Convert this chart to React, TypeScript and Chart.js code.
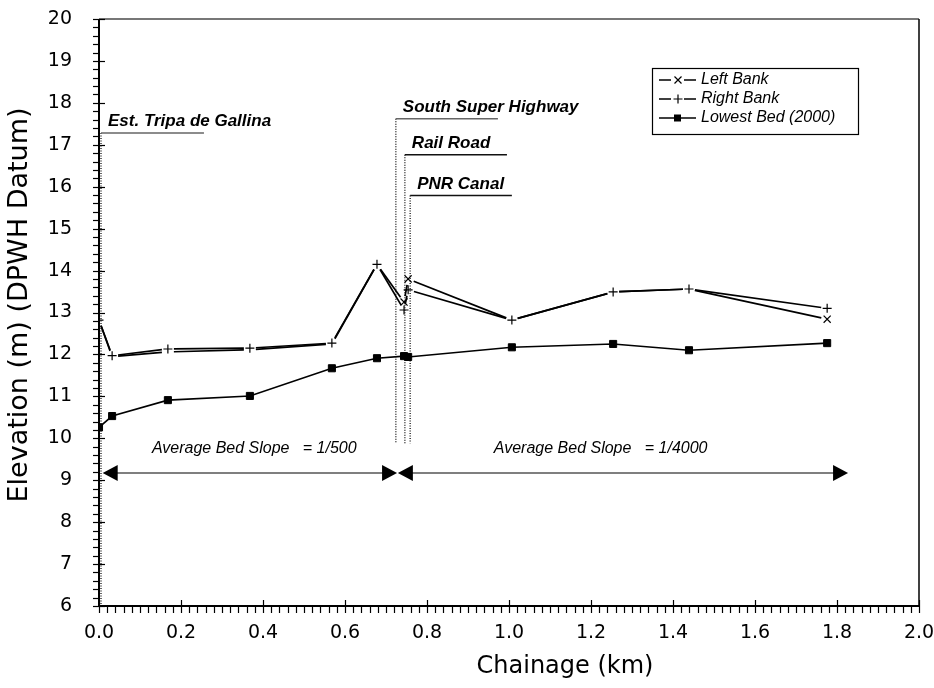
import React, { useEffect, useRef } from "react";
import { Chart, registerables } from "chart.js";

Chart.register(...registerables);

// ---------- data ----------
const chainageKm = [0, 0.032, 0.168, 0.368, 0.568, 0.678, 0.744, 0.754, 1.007, 1.254, 1.439, 1.776];
const leftBank = [12.82, 11.95, 12.06, 12.11, 12.25, 14.15, 13.25, 13.8, 12.82, 13.49, 13.56, 12.84];
const rightBank = [12.82, 11.97, 12.13, 12.15, 12.27, 14.15, 13.06, 13.54, 12.82, 13.49, 13.56, 13.1];
const lowestBed = [10.26, 10.53, 10.91, 11.01, 11.67, 11.91, 11.96, 11.94, 12.17, 12.25, 12.1, 12.27];
const seriesLabels = ["Left Bank", "Right Bank", "Lowest Bed (2000)"];

const structureNames = ["Est. Tripa de Gallina", "South Super Highway", "Rail Road", "PNR Canal"];
const structureKm = [0, 0.724, 0.746, 0.759];
const structureTop = [17.28, 17.62, 16.76, 15.79];
const structureLineEnd = [0.256, 0.973, 0.995, 1.007];

const slopeLabels = ["Average Bed Slope   = 1/500", "Average Bed Slope   = 1/4000"];
const slopeFrom = [0.009, 0.729];
const slopeTo = [0.727, 1.827];
const slopeTextKm = [0.129, 0.963];
const slopeArrowY = 9.17;
const slopeTextY = 9.64;
const structureLineBottom = 9.88;

const xTitle = "Chainage (km)";
const yTitle = "Elevation (m) (DPWH Datum)";

const toPts = (ys: number[]) => ys.map((y, i) => ({ x: chainageKm[i], y }));

// ---------- plugins ----------
const gapLinePlugin = {
  id: "gapLines",
  beforeDatasetsDraw(chart: any) {
    const ctx = chart.ctx;
    chart.data.datasets.forEach((ds: any, i: number) => {
      if (!ds.gapLine) return;
      const pts = chart.getDatasetMeta(i).data;
      ctx.save();
      ctx.strokeStyle = "#000";
      ctx.lineWidth = 1.7;
      for (let k = 0; k < pts.length - 1; k++) {
        const a = pts[k];
        const b = pts[k + 1];
        const dx = b.x - a.x;
        const dy = b.y - a.y;
        const L = Math.hypot(dx, dy);
        const g = 6;
        if (L <= 2 * g) continue;
        const ux = dx / L;
        const uy = dy / L;
        ctx.beginPath();
        ctx.moveTo(a.x + ux * g, a.y + uy * g);
        ctx.lineTo(b.x - ux * g, b.y - uy * g);
        ctx.stroke();
      }
      ctx.restore();
    });
  },
};

function drawArrowHead(ctx: CanvasRenderingContext2D, tipX: number, y: number, dir: number) {
  ctx.beginPath();
  ctx.moveTo(tipX, y);
  ctx.lineTo(tipX - dir * 15, y - 8);
  ctx.lineTo(tipX - dir * 15, y + 8);
  ctx.closePath();
  ctx.fill();
}

const annotationPlugin = {
  id: "annots",
  beforeDatasetsDraw(chart: any) {
    const ctx: CanvasRenderingContext2D = chart.ctx;
    const xs = chart.scales.x;
    const ys = chart.scales.y;
    ctx.save();
    structureNames.forEach((name, i) => {
      const x = xs.getPixelForValue(structureKm[i]) + (i === 0 ? 2 : 0);
      const yTop = ys.getPixelForValue(structureTop[i]);
      const yBot = i === 0 ? ys.getPixelForValue(6) : ys.getPixelForValue(structureLineBottom);
      ctx.strokeStyle = "#333";
      ctx.lineWidth = 1.5;
      ctx.setLineDash([1, 1.5]);
      ctx.beginPath();
      ctx.moveTo(x, yTop);
      ctx.lineTo(x, yBot);
      ctx.stroke();
      ctx.setLineDash([]);
      ctx.strokeStyle = i < 2 ? "#666" : "#111";
      ctx.lineWidth = 1.5;
      ctx.beginPath();
      ctx.moveTo(x, yTop);
      ctx.lineTo(xs.getPixelForValue(structureLineEnd[i]), yTop);
      ctx.stroke();
      ctx.fillStyle = "#000";
      ctx.font = "italic bold 17px 'Liberation Sans', Arial, sans-serif";
      ctx.textAlign = "left";
      ctx.textBaseline = "alphabetic";
      ctx.fillText(name, x + 7, yTop - 7);
    });
    slopeLabels.forEach((lab, i) => {
      const y = ys.getPixelForValue(slopeArrowY);
      const x1 = xs.getPixelForValue(slopeFrom[i]);
      const x2 = xs.getPixelForValue(slopeTo[i]);
      ctx.strokeStyle = "#555";
      ctx.lineWidth = 1.5;
      ctx.beginPath();
      ctx.moveTo(x1 + 10, y);
      ctx.lineTo(x2 - 10, y);
      ctx.stroke();
      ctx.fillStyle = "#000";
      drawArrowHead(ctx, x1, y, -1);
      drawArrowHead(ctx, x2, y, 1);
      ctx.font = "italic 16px 'Liberation Sans', Arial, sans-serif";
      ctx.textAlign = "left";
      ctx.textBaseline = "alphabetic";
      ctx.fillText(lab, xs.getPixelForValue(slopeTextKm[i]), ys.getPixelForValue(slopeTextY));
    });
    ctx.restore();
  },
  afterDraw(chart: any) {
    const ctx: CanvasRenderingContext2D = chart.ctx;
    const { left, right, top, bottom } = chart.chartArea;
    const xs = chart.scales.x;
    const ys = chart.scales.y;
    ctx.save();
    ctx.lineWidth = 2;
    ctx.strokeStyle = "#777";
    ctx.beginPath();
    ctx.moveTo(left, top);
    ctx.lineTo(right, top);
    ctx.stroke();
    ctx.strokeStyle = "#000";
    ctx.lineWidth = 1.5;
    ctx.beginPath();
    ctx.moveTo(right, top);
    ctx.lineTo(right, bottom);
    ctx.stroke();
    ctx.lineWidth = 2;
    ctx.beginPath();
    ctx.moveTo(left, top);
    ctx.lineTo(left, bottom);
    ctx.lineTo(right, bottom);
    ctx.stroke();
    ctx.lineWidth = 1.2;
    for (let k = 0; k <= 70; k++) {
      const v = 6 + k * 0.2;
      const py = Math.round(ys.getPixelForValue(v)) + 0.5;
      const major = k % 5 === 0;
      ctx.beginPath();
      ctx.moveTo(left - 6, py);
      ctx.lineTo(major ? left + 6 : left, py);
      ctx.stroke();
    }
    for (let k = 0; k <= 100; k++) {
      const v = k * 0.02;
      const px = Math.round(xs.getPixelForValue(v)) + 0.5;
      const major = k % 10 === 0;
      ctx.beginPath();
      ctx.moveTo(px, major ? bottom - 6 : bottom);
      ctx.lineTo(px, bottom + 7);
      ctx.stroke();
    }
    ctx.fillStyle = "#000";
    ctx.font = "24px 'DejaVu Sans', Verdana, sans-serif";
    ctx.textAlign = "center";
    ctx.textBaseline = "middle";
    ctx.fillText(xTitle, 565, 667);
    ctx.translate(20, 305);
    ctx.rotate(-Math.PI / 2);
    ctx.font = "27px 'DejaVu Sans', Verdana, sans-serif";
    ctx.fillText(yTitle, 0, 0);
    ctx.restore();

    // legend
    ctx.save();
    ctx.strokeStyle = "#000";
    ctx.lineWidth = 1.2;
    ctx.strokeRect(652.5, 68.5, 206, 66);
    const rows = [80, 99, 118];
    rows.forEach((ry, i) => {
      ctx.strokeStyle = "#000";
      ctx.lineWidth = 1.4;
      ctx.beginPath();
      if (i < 2) {
        ctx.moveTo(659, ry);
        ctx.lineTo(671, ry);
        ctx.moveTo(684, ry);
        ctx.lineTo(696, ry);
      } else {
        ctx.moveTo(659, ry);
        ctx.lineTo(696, ry);
      }
      ctx.stroke();
      ctx.lineWidth = 1.2;
      if (i === 0) {
        ctx.beginPath();
        ctx.moveTo(674.5, ry - 3.5);
        ctx.lineTo(681.5, ry + 3.5);
        ctx.moveTo(681.5, ry - 3.5);
        ctx.lineTo(674.5, ry + 3.5);
        ctx.stroke();
      } else if (i === 1) {
        ctx.beginPath();
        ctx.moveTo(673.5, ry);
        ctx.lineTo(682.5, ry);
        ctx.moveTo(678, ry - 4.5);
        ctx.lineTo(678, ry + 4.5);
        ctx.stroke();
      } else {
        ctx.fillStyle = "#000";
        ctx.fillRect(674, ry - 3.5, 7, 7);
      }
      ctx.fillStyle = "#000";
      ctx.font = "italic 16px 'Liberation Sans', Arial, sans-serif";
      ctx.textAlign = "left";
      ctx.textBaseline = "middle";
      ctx.fillText(seriesLabels[i], 701, ry);
    });
    ctx.restore();
  },
};

export default function App() {
  const ref = useRef<HTMLCanvasElement | null>(null);
  useEffect(() => {
    if (!ref.current) return;
    const tickFont = { family: "'DejaVu Sans', Verdana, sans-serif", size: 19 };
    const chart = new Chart(ref.current, {
      type: "scatter",
      data: {
        datasets: [
          {
            label: seriesLabels[0],
            data: toPts(leftBank),
            showLine: false,
            gapLine: true,
            pointStyle: "crossRot",
            pointRadius: (c: any) =>
              Math.abs(leftBank[c.dataIndex] - rightBank[c.dataIndex]) > 0.1 ? 5 : 0,
            borderColor: "#000",
            backgroundColor: "#000",
            pointBorderWidth: 1.2,
          } as any,
          {
            label: seriesLabels[1],
            data: toPts(rightBank),
            showLine: false,
            gapLine: true,
            pointStyle: "cross",
            pointRadius: 4.5,
            borderColor: "#000",
            backgroundColor: "#000",
            pointBorderWidth: 1.2,
          } as any,
          {
            label: seriesLabels[2],
            data: toPts(lowestBed),
            showLine: true,
            borderWidth: 1.6,
            pointStyle: "rect",
            pointRadius: 5,
            borderColor: "#000",
            backgroundColor: "#000",
            pointBorderWidth: 1,
          },
        ],
      },
      options: {
        animation: false,
        responsive: false,
        devicePixelRatio: 1,
        events: [],
        layout: { padding: { left: 0, top: 19, right: 15, bottom: 0 } },
        plugins: { legend: { display: false }, tooltip: { enabled: false }, title: { display: false } },
        scales: {
          x: {
            type: "linear",
            min: 0,
            max: 2,
            grid: { display: false, drawTicks: false },
            border: { display: false },
            ticks: {
              stepSize: 0.2,
              autoSkip: false,
              maxRotation: 0,
              padding: 16,
              color: "#000",
              font: tickFont,
              callback: (v: any) => Number(v).toFixed(1),
            },
            afterFit(s: any) {
              s.height = 82;
              s.paddingLeft = 0;
              s.paddingRight = 0;
            },
          },
          y: {
            type: "linear",
            min: 6,
            max: 20,
            grid: { display: false, drawTicks: false },
            border: { display: false },
            ticks: {
              stepSize: 1,
              autoSkip: false,
              padding: 27,
              color: "#000",
              font: tickFont,
            },
            afterFit(s: any) {
              s.width = 99;
              s.paddingTop = 0;
              s.paddingBottom = 0;
            },
          },
        },
      } as any,
      plugins: [annotationPlugin, gapLinePlugin],
    });
    return () => chart.destroy();
  }, []);
  return (
    <div style={{ position: "fixed", left: 0, top: 0, width: 934, height: 688, background: "#fff" }}>
      <canvas ref={ref} width={934} height={688} style={{ width: 934, height: 688, display: "block" }} />
    </div>
  );
}
